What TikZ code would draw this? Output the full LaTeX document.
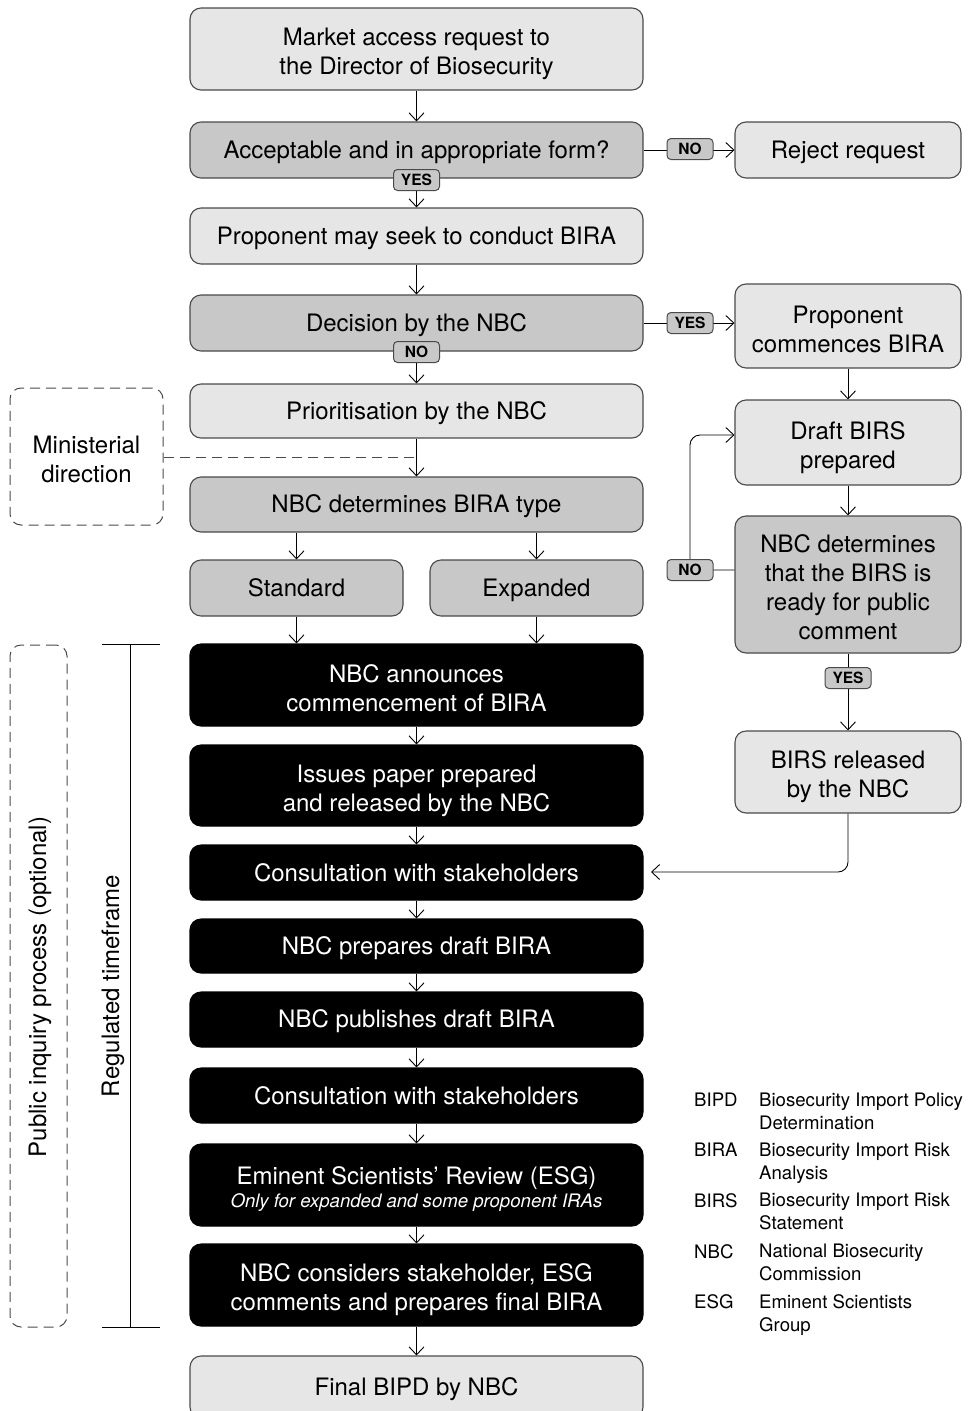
\documentclass[tikz,border=0pt]{standalone}
\usepackage{fontspec}
\setmainfont{TeX Gyre Heros}
\usetikzlibrary{arrows.meta}
\definecolor{lg}{HTML}{E6E6E6}
\definecolor{mg}{HTML}{C8C8C8}
\definecolor{bd}{HTML}{4A4A4A}
\tikzset{
 vfix/.style={execute at begin node={\rule{0pt}{22pt}}, execute at end node={\rule[-4.8pt]{0pt}{4.8pt}}},
 ml/.style={execute at begin node={\rule{0pt}{#1}}},
 ml/.default=57pt,
 box/.style={draw=bd, line width=1.1pt, rounded corners=11pt, align=center, font=\fontsize{24}{29}\selectfont, inner sep=0pt, vfix},
 lbox/.style={box, fill=lg},
 mbox/.style={box, fill=mg},
 bbox/.style={box, fill=black, draw=black, text=white},
 dbox/.style={draw=bd, line width=1pt, dash pattern=on 10pt off 6pt, rounded corners=11pt, align=center, font=\fontsize{24}{29}\selectfont, inner sep=0pt},
 tag/.style={draw=bd, fill=mg, rounded corners=4pt, line width=1pt, font=\fontsize{15.5}{15.5}\selectfont\bfseries, minimum width=46pt, minimum height=21pt, inner sep=0pt, text height=11.2pt, text depth=0pt},
 arr/.style={-{Straight Barb[length=8pt,width=15pt]}, line width=0.9pt},
 dline/.style={draw=bd, line width=1pt, dash pattern=on 10pt off 6pt},
 plain/.style={line width=0.9pt},
 leg/.style={font=\fontsize{18.6}{23}\selectfont, inner sep=0pt, align=left, anchor=north west},
 side/.style={font=\fontsize{24}{29}\selectfont, inner sep=0pt, rotate=90},
 mw/.style={minimum width=453pt},
 rw/.style={minimum width=226pt},
 sw/.style={minimum width=213pt}
}
\begin{document}
\begin{tikzpicture}[x=1pt,y=-1pt]
\useasboundingbox (0,0) rectangle (973,1411);
% main column
\node[lbox, ml, mw, minimum height=82pt] (n1) at (416.5,49) {Market access request to\\the Director of Biosecurity};
\node[mbox, mw, minimum height=56pt] (n2) at (416.5,150) {Acceptable and in appropriate form?};
\node[lbox, mw, minimum height=56pt] (n3) at (416.5,236) {Proponent may seek to conduct BIRA};
\node[mbox, mw, minimum height=56pt] (n4) at (416.5,323) {Decision by the NBC};
\node[lbox, mw, minimum height=54pt] (n5) at (416.5,411) {Prioritisation by the NBC};
\node[mbox, mw, minimum height=55pt] (n6) at (416.5,504.5) {NBC determines BIRA type};
\node[mbox, sw, minimum height=56pt] (std) at (296.5,588) {Standard};
\node[mbox, sw, minimum height=56pt] (exp) at (536.5,588) {Expanded};
\node[bbox, ml, mw, minimum height=82pt] (n8) at (416.5,685) {NBC announces\\commencement of BIRA};
\node[bbox, ml, mw, minimum height=81pt] (n9) at (416.5,785.5) {Issues paper prepared\\and released by the NBC};
\node[bbox, mw, minimum height=55pt] (n10) at (416.5,872.5) {Consultation with stakeholders};
\node[bbox, mw, minimum height=54pt] (n11) at (416.5,946) {NBC prepares draft BIRA};
\node[bbox, mw, minimum height=55pt] (n12) at (416.5,1019.5) {NBC publishes draft BIRA};
\node[bbox, mw, minimum height=55pt] (n13) at (416.5,1095.5) {Consultation with stakeholders};
\node[bbox, ml=49pt, mw, minimum height=82pt] (n14) at (416.5,1185) {Eminent Scientists’ Review (ESG)\\[-6pt]{\fontsize{18.6}{20}\selectfont\itshape Only for expanded and some proponent IRAs}};
\node[bbox, ml, mw, minimum height=82pt] (n15) at (416.5,1285) {NBC considers stakeholder, ESG\\comments and prepares final BIRA};
\node[lbox, mw, minimum height=62pt] (n16) at (416.5,1387) {Final BIPD by NBC};
% right column
\node[lbox, rw, minimum height=56pt] (rej) at (848,150) {Reject request};
\node[lbox, ml, rw, minimum height=84pt] (pc) at (848,326) {Proponent\\commences BIRA};
\node[lbox, ml, rw, minimum height=85pt] (draft) at (848,442.5) {Draft BIRS\\prepared};
\node[mbox, ml=115pt, rw, minimum height=137pt] (nbcd) at (848,584.5) {NBC determines\\that the BIRS is\\ready for public\\comment};
\node[lbox, ml, rw, minimum height=82pt] (rel) at (848,772) {BIRS released\\by the NBC};
% left side
\node[dbox, vfix, ml, minimum width=153pt, minimum height=137pt] (min) at (86.5,456.5) {Ministerial\\direction};
\node[dbox, minimum width=57pt, minimum height=682pt] (pub) at (38.5,986) {};
\node[side] (pubt) at (40,987) {Public inquiry process (optional)};
\coordinate (rt1) at (130,644);
\coordinate (rt2) at (130,1327);
\draw[plain] ([xshift=-28pt]rt1) -- ([xshift=30pt]rt1);
\draw[plain] ([xshift=-28pt]rt2) -- ([xshift=30pt]rt2);
\draw[plain] (rt1) -- (rt2);
\node[side] (rtt) at (113,986) {Regulated timeframe};
% coordinates
\coordinate (mj) at (416.5,457);
\coordinate (noY) at (690,570);
\coordinate (bend1) at (690,435);
\coordinate (relEnd) at (651,872);
% connectors
\draw[arr] (n1) -- (n2);
\draw[arr] (n2) -- (n3);
\draw[arr] (n3) -- (n4);
\draw[arr] (n4) -- (n5);
\draw[arr] (n5) -- (n6);
\draw[dline] (min.east |- mj) -- (mj);
\draw[arr] (n6.south -| std) -- (std);
\draw[arr] (n6.south -| exp) -- (exp);
\draw[arr] (std) -- (std |- n8.north);
\draw[arr] (exp) -- (exp |- n8.north);
\draw[arr] (n8) -- (n9);
\draw[arr] (n9) -- (n10);
\draw[arr] (n10) -- (n11);
\draw[arr] (n11) -- (n12);
\draw[arr] (n12) -- (n13);
\draw[arr] (n13) -- (n14);
\draw[arr] (n14) -- (n15);
\draw[arr] (n15) -- (n16);
\draw[arr] (n2) -- (rej);
\draw[arr] (n4.east) -- (n4.east -| pc.west);
\draw[arr] (pc) -- (draft);
\draw[arr] (draft) -- (nbcd);
\draw[arr] (nbcd) -- (rel);
\draw[arr, rounded corners=10pt] (rel.south) |- (relEnd);
\draw[arr, rounded corners=10pt] (noY -| nbcd.west) -- (noY) -- (bend1) -- (bend1 -| draft.west);
% tags
\node[tag] (t1) at (690,149) {NO};
\node[tag] (t2) at (416.5,180) {YES};
\node[tag] (t3) at (690,323) {YES};
\node[tag] (t4) at (416.5,352) {NO};
\node[tag] (t5) at (noY) {NO};
\node[tag] (t6) at (848,678) {YES};
% legend
\node[leg] (a1) at (694,1093) {BIPD};
\node[leg] (d1) at (759,1093) {Biosecurity Import Policy\\Determination};
\node[leg] (a2) at (694,1143) {BIRA};
\node[leg] (d2) at (759,1143) {Biosecurity Import Risk\\Analysis};
\node[leg] (a3) at (694,1193) {BIRS};
\node[leg] (d3) at (759,1193) {Biosecurity Import Risk\\Statement};
\node[leg] (a4) at (694,1244) {NBC};
\node[leg] (d4) at (759,1244) {National Biosecurity\\Commission};
\node[leg] (a5) at (694,1294) {ESG};
\node[leg] (d5) at (759,1294) {Eminent Scientists\\Group};
\end{tikzpicture}
\end{document}
